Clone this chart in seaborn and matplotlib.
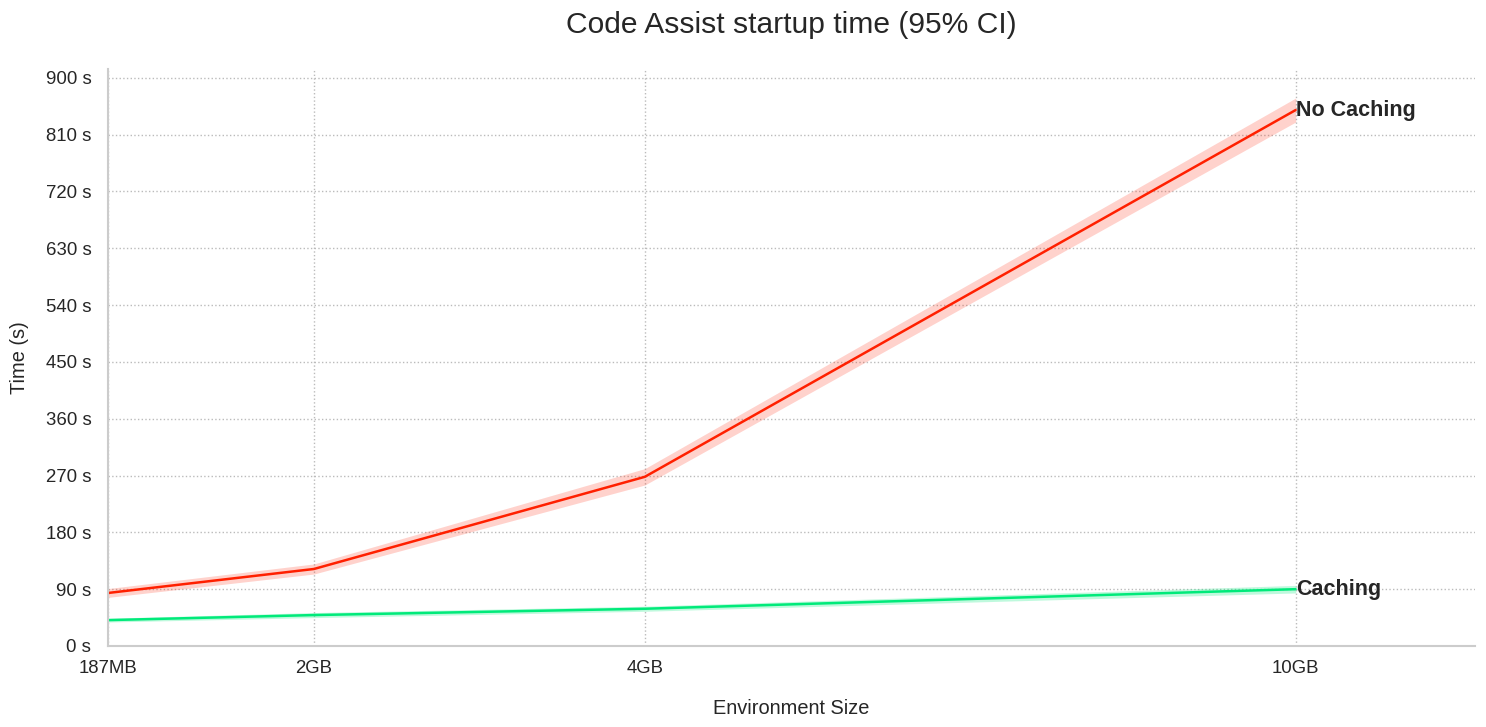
import matplotlib
matplotlib.use("Agg")
import matplotlib.pyplot as plt
import seaborn as sns
import pandas as pd
import numpy as np
from matplotlib.ticker import FuncFormatter, MultipleLocator

# ---- data ----
env_labels = ["187MB", "2GB", "4GB", "10GB"]
env_x = [0.0, 1.734, 4.52, 10.0]
series_names = ["No Caching", "Caching"]
no_cache_mean = [84, 122, 268, 849]
no_cache_lo = [77, 114, 255, 830]
no_cache_hi = [91, 130, 281, 868]
cache_mean = [41, 49, 59, 90]
cache_lo = [38, 45, 55, 84]
cache_hi = [44, 53, 63, 96]
y_ticks = list(range(0, 901, 90))

colors = {"No Caching": "#ff2000", "Caching": "#00ea7a"}

df = pd.DataFrame({
    "x": env_x * 2,
    "time": no_cache_mean + cache_mean,
    "series": [series_names[0]] * 4 + [series_names[1]] * 4,
})

sns.set_theme(style="whitegrid")
plt.rcParams["font.family"] = ["Liberation Sans", "DejaVu Sans"]
plt.rcParams["grid.linestyle"] = ":"
plt.rcParams["grid.color"] = "#bbbbbb"

fig = plt.figure(figsize=(14.86, 7.27), dpi=100)
ax = fig.add_axes([108 / 1486, 1 - 646 / 727, (1475 - 108) / 1486, (646 - 69) / 727])

sns.lineplot(data=df, x="x", y="time", hue="series", palette=colors,
             errorbar=None, legend=False, ax=ax, linewidth=1.8)

ax.fill_between(env_x, no_cache_lo, no_cache_hi, color=colors["No Caching"], alpha=0.2, linewidth=0)
ax.fill_between(env_x, cache_lo, cache_hi, color=colors["Caching"], alpha=0.25, linewidth=0)

ax.text(env_x[-1], no_cache_mean[-1], "No Caching", ha="left", va="center",
        fontsize=15.5, fontweight="bold", color="#262626")
ax.text(env_x[-1], cache_mean[-1], "Caching", ha="left", va="center",
        fontsize=15.5, fontweight="bold", color="#262626")

ax.set_xlim(0, 11.51)
ax.set_ylim(0, 914)
ax.set_xticks(env_x)
ax.set_xticklabels(env_labels)
ax.set_yticks(y_ticks)
ax.yaxis.set_major_formatter(FuncFormatter(lambda v, p: f"{int(v)} s"))
ax.tick_params(axis="both", labelsize=13.4, colors="#262626", length=0)
ax.tick_params(axis="y", pad=12)
ax.tick_params(axis="x", pad=10)

ax.grid(True, linestyle=":", color="#bbbbbb", linewidth=1)
ax.set_xlabel("Environment Size", fontsize=14.4, labelpad=16, color="#262626")
ax.set_ylabel("Time (s)", fontsize=14.4, labelpad=12, color="#262626")
ax.set_title("Code Assist startup time (95% CI)", fontsize=21.6, pad=26, color="#262626")

sns.despine(ax=ax)
for s in ["left", "bottom"]:
    ax.spines[s].set_color("#cccccc")
    ax.spines[s].set_linewidth(1.5)

fig.savefig("out.png", dpi=100)
